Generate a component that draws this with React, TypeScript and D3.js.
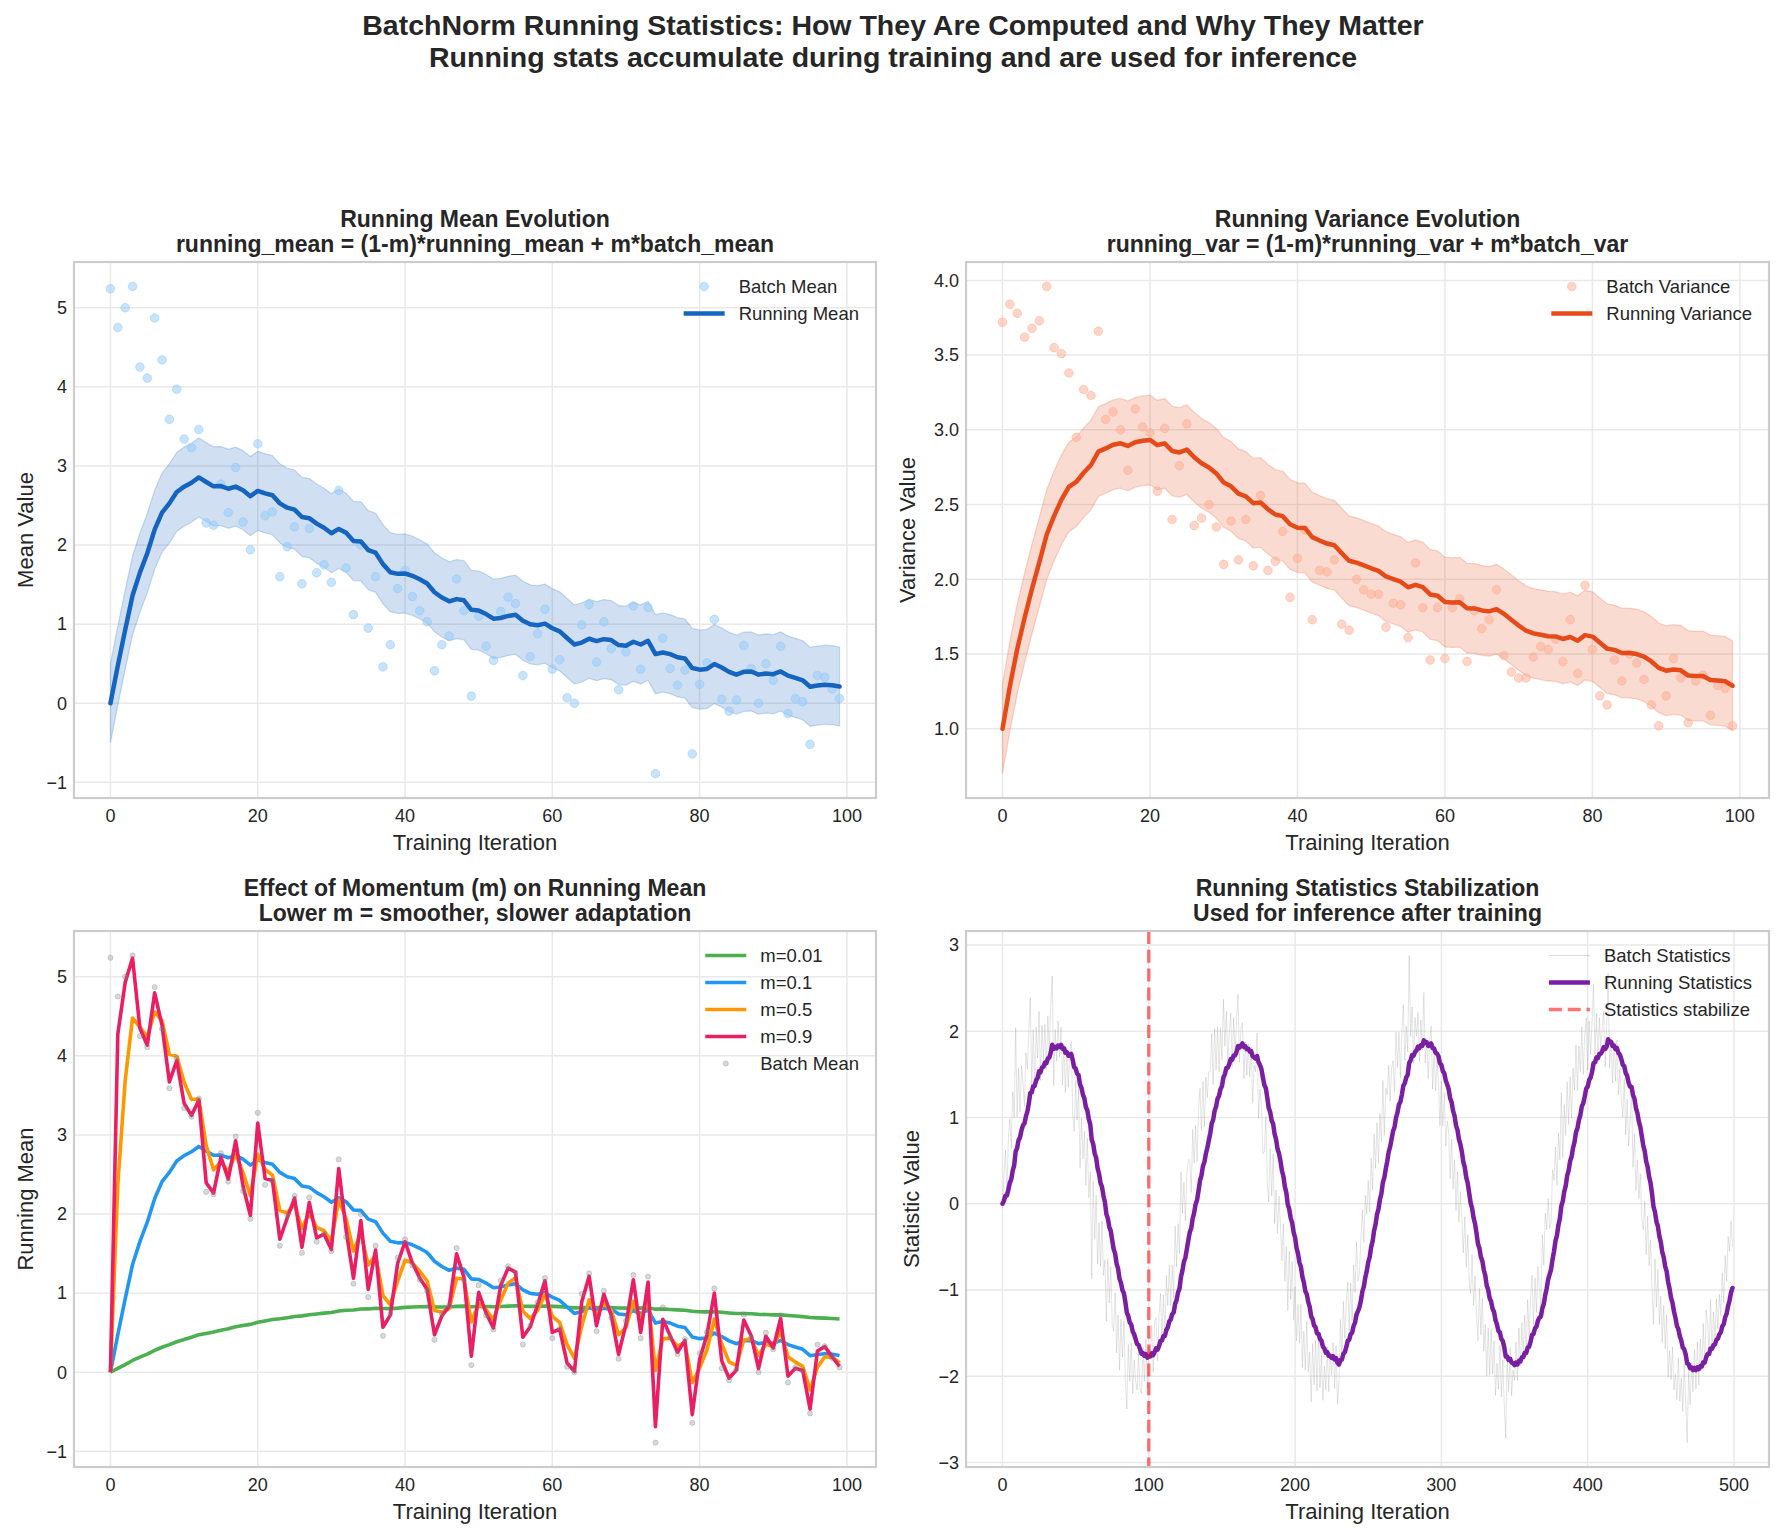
import React, { useEffect, useRef } from "react";
import * as d3 from "d3";

const FIG_W = 1783;
const FIG_H = 1536;
const FONT = "'Liberation Sans', Arial, Helvetica, sans-serif";
const INK = "#262626";
const GRID = "#e9e9e9";
const SPINE = "#cccccc";

// batch mean per training iteration (0..99)
const batchMean = [
  5.24, 4.75, 5.0, 5.27, 4.25, 4.11, 4.87, 4.34, 3.59, 3.97,
  3.34, 3.23, 3.46, 2.28, 2.25, 2.77, 2.41, 2.98, 2.29, 1.94,
  3.28, 2.37, 2.42, 1.6, 1.98, 2.23, 1.51, 2.21, 1.65, 1.75,
  1.53, 2.69, 1.71, 1.12, 2.0, 0.95, 1.6, 0.46, 0.74, 1.45,
  1.68, 1.35, 1.17, 1.03, 0.41, 0.74, 0.85, 1.57, 1.17, 0.09,
  1.1, 0.72, 0.54, 1.16, 1.34, 1.26, 0.35, 0.59, 0.88, 1.19,
  0.43, 0.55, 0.07, 0.0, 0.99, 1.25, 0.52, 1.03, 0.69, 0.17,
  0.65, 1.23, 0.43, 1.21, -0.89, 0.82, 0.44, 0.23, 0.42, -0.64,
  0.24, 0.51, 1.06, 0.05, -0.1, 0.04, 0.73, 0.44, 0.0, 0.5,
  0.29, 0.72, -0.13, 0.06, 0.02, -0.52, 0.35, 0.33, 0.18, 0.06,
];

// batch variance per training iteration (0..99)
const batchVar = [
  3.72, 3.84, 3.78, 3.62, 3.68, 3.73, 3.96, 3.55, 3.51, 3.38,
  2.95, 3.27, 3.23, 3.66, 3.07, 3.12, 3.0, 2.73, 3.14, 3.02,
  2.98, 2.59, 3.01, 2.4, 2.76, 3.04, 2.36, 2.41, 2.5, 2.35,
  2.1, 2.39, 2.13, 2.4, 2.09, 2.56, 2.06, 2.12, 2.32, 1.88,
  2.14, 2.33, 1.73, 2.06, 2.05, 2.13, 1.7, 1.66, 2.0, 1.93,
  1.9, 1.9, 1.68, 1.84, 1.83, 1.61, 2.11, 1.81, 1.46, 1.81,
  1.47, 1.81, 1.87, 1.45, 1.79, 1.67, 1.73, 1.93, 1.49, 1.38,
  1.34, 1.34, 1.48, 1.55, 1.53, 1.6, 1.45, 1.73, 1.37, 1.96,
  1.53, 1.22, 1.16, 1.46, 1.32, 1.5, 1.44, 1.33, 1.16, 1.02,
  1.22, 1.47, 1.34, 1.04, 1.32, 1.36, 1.09, 1.29, 1.27, 1.02,
];

// per-batch statistic over a longer run (0..499)
const batchStats = [
  -0.05, 0.35, 0.62, 0.12, 0.75, 0.98, 0.64, 1.30, 1.00, 2.04,
  1.00, 1.57, 1.06, 1.60, 1.41, 1.13, 1.75, 1.56, 2.02, 2.39,
  1.34, 2.02, 1.37, 2.05, 1.69, 2.23, 1.43, 2.07, 1.66, 2.08,
  1.56, 2.18, 1.78, 2.31, 2.64, 1.37, 2.02, 1.65, 2.12, 1.70,
  2.05, 1.38, 1.85, 1.29, 1.81, 1.35, 1.76, 1.88, 1.03, 0.84,
  1.43, 0.97, 1.35, 0.41, 0.99, 0.52, 0.84, 0.21, 0.76, 0.07,
  0.37, -0.87, 0.26, -0.41, 0.10, -0.70, -0.22, -0.73, -0.20, -0.83,
  -0.65, -1.36, -0.64, -1.15, -0.73, -1.39, -1.48, -1.03, -1.73, -1.29,
  -1.93, -1.34, -1.78, -1.36, -2.05, -2.38, -1.63, -2.06, -1.61, -2.20,
  -1.81, -2.06, -2.16, -1.72, -2.14, -2.20, -1.66, -2.06, -1.57, -2.14,
  -1.66, -1.77, -1.41, -1.95, -1.36, -1.32, -1.82, -1.29, -1.04, -1.55,
  -1.06, -1.53, -0.83, -1.18, -0.71, -1.18, -0.71, -1.09, -0.26, -0.73,
  -0.23, -0.58, 0.37, -0.11, 0.25, -0.20, 0.34, 0.51, 0.51, 0.13,
  0.86, 0.47, 0.91, 0.49, 1.08, 1.34, 0.85, 1.42, 0.89, 1.47,
  1.23, 1.53, 1.53, 1.97, 1.38, 2.03, 1.55, 2.05, 1.53, 2.04,
  1.67, 2.37, 1.83, 2.23, 1.63, 1.98, 2.21, 1.59, 2.16, 1.73,
  2.14, 2.43, 1.64, 2.04, 2.10, 1.45, 1.88, 1.49, 1.85, 1.47,
  1.82, 1.17, 1.61, 1.53, 1.98, 0.99, 1.33, 1.13, 0.58, 0.60,
  1.01, 0.24, 0.02, 0.64, 0.09, 0.58, -0.23, 0.16, -0.34, 0.09,
  -0.26, -0.66, -0.23, -0.90, -0.50, -1.24, -0.55, -1.11, -0.67, -1.35,
  -0.96, -1.59, -1.17, -1.62, -1.17, -1.90, -1.48, -1.93, -1.36, -1.95,
  -1.72, -2.30, -1.62, -2.10, -1.58, -2.17, -1.52, -2.13, -1.75, -2.28,
  -1.88, -2.16, -1.66, -2.18, -1.74, -1.99, -1.61, -2.14, -1.65, -2.32,
  -2.06, -1.34, -1.77, -1.13, -1.56, -1.13, -0.91, -1.48, -0.92, -1.35,
  -0.71, -1.03, -0.44, -0.90, -0.79, -0.42, -0.07, -0.45, 0.10, -0.12,
  0.27, -0.10, 0.53, 0.16, 0.81, 0.41, 0.94, 0.47, 1.05, 0.72,
  1.43, 0.79, 1.34, 1.26, 1.61, 1.19, 1.58, 1.66, 1.30, 1.99,
  1.58, 1.99, 1.46, 2.02, 2.31, 1.66, 2.06, 1.76, 2.88, 1.94,
  2.28, 1.63, 2.16, 1.94, 2.22, 1.65, 2.13, 1.78, 2.45, 1.63,
  1.92, 1.45, 1.89, 2.06, 1.33, 1.76, 1.31, 1.66, 1.41, 0.91,
  1.42, 0.90, 1.29, 0.67, 0.96, 0.84, 0.29, 0.75, 0.17, 0.51,
  -0.08, 0.37, -0.21, 0.14, -0.16, -0.57, -0.15, -0.74, -0.36, -0.89,
  -1.04, -0.59, -1.18, -0.84, -1.31, -1.59, -0.98, -1.52, -1.09, -1.71,
  -1.40, -2.00, -1.44, -1.99, -1.46, -1.98, -1.59, -2.22, -1.85, -2.15,
  -1.64, -2.24, -1.81, -2.35, -2.72, -1.76, -2.18, -1.67, -2.23, -1.93,
  -2.05, -1.60, -2.05, -1.44, -1.88, -1.38, -1.73, -1.29, -1.74, -1.11,
  -1.55, -1.07, -0.83, -1.40, -0.86, -1.26, -0.73, -1.00, -1.20, -0.36,
  -0.71, -0.11, -0.30, 0.06, -0.28, -0.22, 0.39, 0.27, 0.66, 0.21,
  0.82, 0.51, 1.29, 0.53, 1.15, 0.79, 1.41, 0.92, 1.47, 0.99,
  1.57, 1.32, 1.84, 1.31, 1.83, 1.53, 2.05, 1.50, 1.95, 2.15,
  1.55, 2.12, 1.73, 2.11, 2.55, 1.73, 2.21, 1.62, 2.16, 1.78,
  2.05, 2.23, 1.59, 2.07, 2.67, 1.57, 1.91, 1.40, 1.88, 1.42,
  1.90, 1.26, 1.57, 1.21, 1.00, 1.45, 0.80, 1.21, 0.67, 0.95,
  1.33, 0.42, 0.81, 0.15, 0.51, 0.06, 0.35, -0.18, -0.30, 0.03,
  -0.59, -0.14, -0.72, -0.42, -0.99, -1.40, -0.64, -1.20, -0.76, -1.40,
  -1.07, -1.61, -1.18, -1.68, -1.28, -2.01, -1.70, -2.04, -1.66, -2.16,
  -1.97, -2.27, -1.79, -2.29, -2.02, -2.41, -1.86, -2.29, -2.77, -1.95,
  -2.33, -1.84, -2.18, -1.69, -2.15, -1.60, -2.10, -1.57, -1.93, -1.39,
  -1.88, -1.23, -1.40, -1.73, -1.11, -1.72, -1.25, -1.56, -1.10, -1.45,
  -1.05, -1.30, -0.80, -1.15, -0.60, -0.90, -0.38, -0.55, -0.20, -0.50,
];

const momentumValues = [0.01, 0.1, 0.5, 0.9];
const momentumColors = ["#4CAF50", "#2196F3", "#FF9800", "#E91E63"];
const MOMENTUM = 0.1;
const MEAN_BAND = 0.5;
const VAR_BAND = 0.3;
const STABILIZE_AT = 100;

const ticks100 = [0, 20, 40, 60, 80, 100];
const ticks500 = [0, 100, 200, 300, 400, 500];
const meanTicks = [-1, 0, 1, 2, 3, 4, 5];
const varTicks = [1.0, 1.5, 2.0, 2.5, 3.0, 3.5, 4.0];
const statTicks = [-3, -2, -1, 0, 1, 2, 3];

// running = (1-m)*running + m*batch, seeded with the initial value
function ema(values: number[], m: number, start: number): number[] {
  const out = [start];
  for (let i = 1; i < values.length; i++) out.push((1 - m) * out[i - 1] + m * values[i]);
  return out;
}

// matplotlib-style 5% auto margins
function padded(vals: number[]): [number, number] {
  const [lo, hi] = d3.extent(vals) as [number, number];
  const r = hi - lo;
  return [lo - 0.05 * r, hi + 0.05 * r];
}

const minus = (s: string) => s.replace("-", "\u2212");
const fmtInt = (v: number) => minus(String(v));
const fmtOne = (v: number) => minus(d3.format(".1f")(v));

type Box = { left: number; right: number; top: number; bottom: number };

type AxesCfg = {
  box: Box;
  xDomain: [number, number];
  yDomain: [number, number];
  xTicks: number[];
  yTicks: number[];
  yFmt: (v: number) => string;
  title: string;
  subtitle: string;
  yLabel: string;
  yLabelX: number;
};

function makeAxes(root: any, cfg: AxesCfg) {
  const { box } = cfg;
  const x = d3.scaleLinear().domain(cfg.xDomain).range([box.left, box.right]);
  const y = d3.scaleLinear().domain(cfg.yDomain).range([box.bottom, box.top]);
  const g = root.append("g");

  const grid = g.append("g").attr("stroke", GRID).attr("stroke-width", 1.5);
  grid.selectAll("line.gx").data(cfg.xTicks).join("line").attr("class", "gx")
    .attr("x1", (d: number) => x(d)).attr("x2", (d: number) => x(d))
    .attr("y1", box.top).attr("y2", box.bottom);
  grid.selectAll("line.gy").data(cfg.yTicks).join("line").attr("class", "gy")
    .attr("x1", box.left).attr("x2", box.right)
    .attr("y1", (d: number) => y(d)).attr("y2", (d: number) => y(d));

  const data = g.append("g");

  g.append("rect")
    .attr("x", box.left).attr("y", box.top)
    .attr("width", box.right - box.left).attr("height", box.bottom - box.top)
    .attr("fill", "none").attr("stroke", SPINE).attr("stroke-width", 2.2);

  g.append("g").attr("font-size", 18).attr("text-anchor", "middle")
    .selectAll("text").data(cfg.xTicks).join("text")
    .attr("x", (d: number) => x(d)).attr("y", box.bottom + 24)
    .text(fmtInt);

  g.append("g").attr("font-size", 18).attr("text-anchor", "end")
    .selectAll("text").data(cfg.yTicks).join("text")
    .attr("x", box.left - 7).attr("y", (d: number) => y(d)).attr("dy", "0.35em")
    .text(cfg.yFmt);

  const cx = (box.left + box.right) / 2;
  const cy = (box.top + box.bottom) / 2;
  g.append("text").attr("x", cx).attr("y", box.top - 35)
    .attr("text-anchor", "middle").attr("font-size", 23).attr("font-weight", "bold")
    .text(cfg.title);
  g.append("text").attr("x", cx).attr("y", box.top - 10)
    .attr("text-anchor", "middle").attr("font-size", 23).attr("font-weight", "bold")
    .text(cfg.subtitle);
  g.append("text").attr("x", cx).attr("y", box.bottom + 52)
    .attr("text-anchor", "middle").attr("font-size", 22)
    .text("Training Iteration");
  g.append("text").attr("transform", `translate(${cfg.yLabelX},${cy}) rotate(-90)`)
    .attr("text-anchor", "middle").attr("font-size", 22)
    .text(cfg.yLabel);

  return { x, y, g, data };
}

type LegendItem = {
  label: string;
  kind: "line" | "dot";
  color: string;
  width?: number;
  opacity?: number;
  dash?: string;
  r?: number;
};

function drawLegend(g: any, box: Box, items: LegendItem[]) {
  const lg = g.append("g").attr("font-size", 18.5);
  items.forEach((it, i) => {
    const row = lg.append("g").attr("transform", `translate(0,${box.top + 24.5 + i * 27})`);
    if (it.kind === "line") {
      row.append("line").attr("x1", 0).attr("x2", 41).attr("y1", 0).attr("y2", 0)
        .attr("stroke", it.color).attr("stroke-width", it.width ?? 3)
        .attr("stroke-opacity", it.opacity ?? 1)
        .attr("stroke-dasharray", it.dash ?? null);
    } else {
      row.append("circle").attr("cx", 20.5).attr("cy", 0).attr("r", it.r ?? 4)
        .attr("fill", it.color).attr("fill-opacity", it.opacity ?? 1)
        .attr("stroke", it.color).attr("stroke-opacity", it.opacity ?? 1);
    }
    row.append("text").attr("x", 55).attr("dy", "0.35em").text(it.label);
  });
  const widths = lg.selectAll("text").nodes().map((n: any) => n.getComputedTextLength());
  const maxW = d3.max(widths as number[]) ?? 0;
  lg.attr("transform", `translate(${box.right - 17 - maxW - 55},0)`);
}

const lineOf = (x: any, y: any) =>
  d3.line<number>().x((_, i) => x(i)).y((d) => y(d));

function BatchNormFigure() {
  const svgRef = useRef<SVGSVGElement>(null);

  useEffect(() => {
    document.body.style.margin = "0";
    const svg = d3.select(svgRef.current);
    svg.selectAll("*").remove();
    svg.attr("font-family", FONT).attr("fill", INK);

    svg.append("rect").attr("width", FIG_W).attr("height", FIG_H).attr("fill", "#ffffff");

    // figure title
    const head = svg.append("g").attr("text-anchor", "middle").attr("font-size", 28.5).attr("font-weight", "bold");
    head.append("text").attr("x", 893).attr("y", 35)
      .text("BatchNorm Running Statistics: How They Are Computed and Why They Matter");
    head.append("text").attr("x", 893).attr("y", 67)
      .text("Running stats accumulate during training and are used for inference");

    const runningMean = ema(batchMean, MOMENTUM, 0);
    const runningVar = ema(batchVar, MOMENTUM, 1);
    const runningStats = ema(batchStats, MOMENTUM, 0);
    const momentumRuns = momentumValues.map((m) => ema(batchMean, m, 0));

    const x100: [number, number] = [-4.95, 103.95];
    const x500: [number, number] = [-24.95, 523.95];

    // --- running mean ---
    const box1 = { left: 74, right: 876, top: 262, bottom: 798 };
    const p1 = makeAxes(svg, {
      box: box1, xDomain: x100,
      yDomain: padded([...batchMean, ...runningMean.map((v) => v - MEAN_BAND), ...runningMean.map((v) => v + MEAN_BAND)]),
      xTicks: ticks100, yTicks: meanTicks, yFmt: fmtInt,
      title: "Running Mean Evolution",
      subtitle: "running_mean = (1-m)*running_mean + m*batch_mean",
      yLabel: "Mean Value", yLabelX: 33,
    });
    const band1 = d3.area<number>().x((_, i) => p1.x(i))
      .y0((d) => p1.y(d - MEAN_BAND)).y1((d) => p1.y(d + MEAN_BAND));
    p1.data.append("path").datum(runningMean).attr("d", band1)
      .attr("fill", "#1565C0").attr("fill-opacity", 0.2)
      .attr("stroke", "#1565C0").attr("stroke-opacity", 0.2).attr("stroke-width", 1.3);
    p1.data.append("g").selectAll("circle").data(batchMean).join("circle")
      .attr("cx", (_: number, i: number) => p1.x(i)).attr("cy", (d: number) => p1.y(d)).attr("r", 4.3)
      .attr("fill", "#90CAF9").attr("fill-opacity", 0.5)
      .attr("stroke", "#90CAF9").attr("stroke-opacity", 0.5);
    p1.data.append("path").datum(runningMean).attr("d", lineOf(p1.x, p1.y))
      .attr("fill", "none").attr("stroke", "#1565C0").attr("stroke-width", 4.5)
      .attr("stroke-linejoin", "round").attr("stroke-linecap", "round");
    drawLegend(p1.g, box1, [
      { label: "Batch Mean", kind: "dot", color: "#90CAF9", opacity: 0.5, r: 4.3 },
      { label: "Running Mean", kind: "line", color: "#1565C0", width: 4.5 },
    ]);

    // --- running variance ---
    const box2 = { left: 966, right: 1769, top: 262, bottom: 798 };
    const p2 = makeAxes(svg, {
      box: box2, xDomain: x100,
      yDomain: padded([...batchVar, ...runningVar.map((v) => v - VAR_BAND), ...runningVar.map((v) => v + VAR_BAND)]),
      xTicks: ticks100, yTicks: varTicks, yFmt: fmtOne,
      title: "Running Variance Evolution",
      subtitle: "running_var = (1-m)*running_var + m*batch_var",
      yLabel: "Variance Value", yLabelX: 915,
    });
    const band2 = d3.area<number>().x((_, i) => p2.x(i))
      .y0((d) => p2.y(d - VAR_BAND)).y1((d) => p2.y(d + VAR_BAND));
    p2.data.append("path").datum(runningVar).attr("d", band2)
      .attr("fill", "#E64A19").attr("fill-opacity", 0.2)
      .attr("stroke", "#E64A19").attr("stroke-opacity", 0.2).attr("stroke-width", 1.3);
    p2.data.append("g").selectAll("circle").data(batchVar).join("circle")
      .attr("cx", (_: number, i: number) => p2.x(i)).attr("cy", (d: number) => p2.y(d)).attr("r", 4.3)
      .attr("fill", "#FFAB91").attr("fill-opacity", 0.5)
      .attr("stroke", "#FFAB91").attr("stroke-opacity", 0.5);
    p2.data.append("path").datum(runningVar).attr("d", lineOf(p2.x, p2.y))
      .attr("fill", "none").attr("stroke", "#E64A19").attr("stroke-width", 4.5)
      .attr("stroke-linejoin", "round").attr("stroke-linecap", "round");
    drawLegend(p2.g, box2, [
      { label: "Batch Variance", kind: "dot", color: "#FFAB91", opacity: 0.5, r: 4.3 },
      { label: "Running Variance", kind: "line", color: "#E64A19", width: 4.5 },
    ]);

    // --- effect of momentum ---
    const box3 = { left: 74, right: 876, top: 931, bottom: 1467 };
    const p3 = makeAxes(svg, {
      box: box3, xDomain: x100,
      yDomain: padded([...batchMean, ...momentumRuns.flat()]),
      xTicks: ticks100, yTicks: meanTicks, yFmt: fmtInt,
      title: "Effect of Momentum (m) on Running Mean",
      subtitle: "Lower m = smoother, slower adaptation",
      yLabel: "Running Mean", yLabelX: 33,
    });
    momentumRuns.forEach((run, k) => {
      p3.data.append("path").datum(run).attr("d", lineOf(p3.x, p3.y))
        .attr("fill", "none").attr("stroke", momentumColors[k]).attr("stroke-width", 3.6)
        .attr("stroke-linejoin", "round");
    });
    p3.data.append("g").selectAll("circle").data(batchMean).join("circle")
      .attr("cx", (_: number, i: number) => p3.x(i)).attr("cy", (d: number) => p3.y(d)).attr("r", 2.6)
      .attr("fill", "#808080").attr("fill-opacity", 0.3)
      .attr("stroke", "#808080").attr("stroke-opacity", 0.3);
    drawLegend(p3.g, box3, [
      ...momentumValues.map((m, k) => ({
        label: `m=${m}`, kind: "line" as const, color: momentumColors[k], width: 3.6,
      })),
      { label: "Batch Mean", kind: "dot", color: "#808080", opacity: 0.3, r: 2.6 },
    ]);

    // --- stabilization over a longer run ---
    const box4 = { left: 966, right: 1769, top: 931, bottom: 1467 };
    const p4 = makeAxes(svg, {
      box: box4, xDomain: x500,
      yDomain: padded([...batchStats, ...runningStats]),
      xTicks: ticks500, yTicks: statTicks, yFmt: fmtInt,
      title: "Running Statistics Stabilization",
      subtitle: "Used for inference after training",
      yLabel: "Statistic Value", yLabelX: 919,
    });
    p4.data.append("path").datum(batchStats).attr("d", lineOf(p4.x, p4.y))
      .attr("fill", "none").attr("stroke", "#808080").attr("stroke-opacity", 0.24).attr("stroke-width", 0.9);
    p4.data.append("path").datum(runningStats).attr("d", lineOf(p4.x, p4.y))
      .attr("fill", "none").attr("stroke", "#7B1FA2").attr("stroke-width", 4.5)
      .attr("stroke-linejoin", "round").attr("stroke-linecap", "round");
    p4.data.append("line")
      .attr("x1", p4.x(STABILIZE_AT)).attr("x2", p4.x(STABILIZE_AT))
      .attr("y1", box4.top).attr("y2", box4.bottom)
      .attr("stroke", "#ff0000").attr("stroke-opacity", 0.55).attr("stroke-width", 3.4)
      .attr("stroke-dasharray", "13,5.8");
    drawLegend(p4.g, box4, [
      { label: "Batch Statistics", kind: "line", color: "#808080", width: 1, opacity: 0.3 },
      { label: "Running Statistics", kind: "line", color: "#7B1FA2", width: 4.5 },
      { label: "Statistics stabilize", kind: "line", color: "#ff0000", width: 3.4, opacity: 0.55, dash: "13,5.8" },
    ]);
  }, []);

  return (
    <svg ref={svgRef} width={FIG_W} height={FIG_H} style={{ display: "block" }} />
  );
}

export default function App() {
  return <BatchNormFigure />;
}
